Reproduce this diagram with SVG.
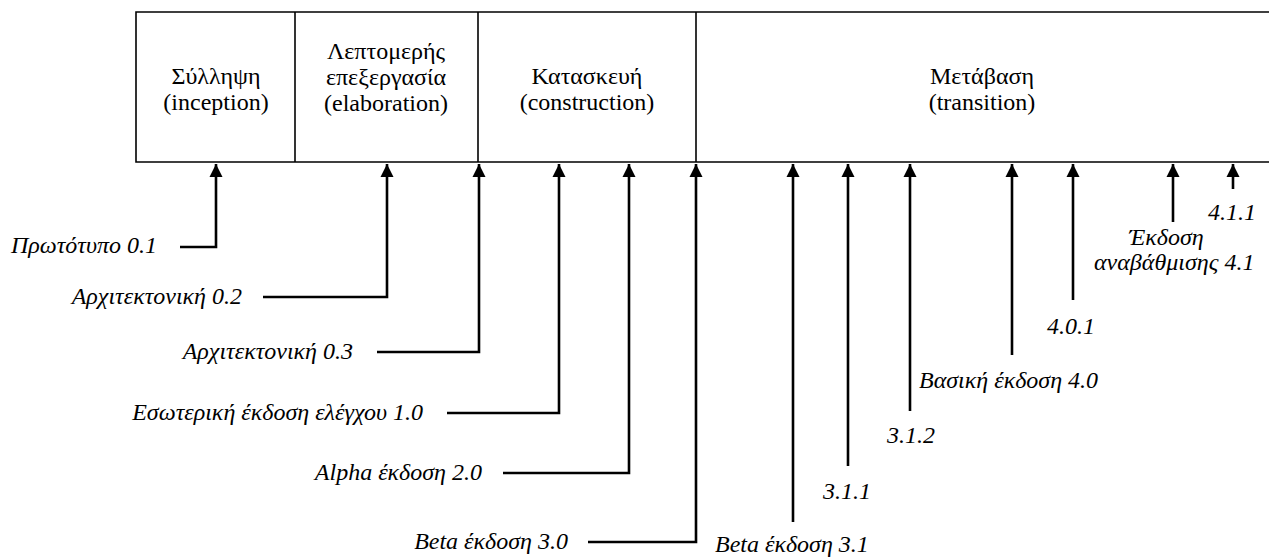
<svg xmlns="http://www.w3.org/2000/svg" width="1269" height="557" viewBox="0 0 1269 557">
  <style>
    .frame { fill: none; stroke: #000; stroke-width: 1.6; }
    text { font-family: 'Liberation Serif', 'Times New Roman', serif; font-size: 24px; fill: #000; }
    .phase { text-anchor: middle; }
    .lbl { font-style: italic; }
    .end { text-anchor: end; }
    .conn { fill: none; stroke: #000; stroke-width: 2.6; }
  </style>
  <defs>
    <marker id="head" viewBox="0 0 10 10" refX="10" refY="5" markerUnits="userSpaceOnUse" markerWidth="13" markerHeight="14" orient="auto">
      <path d="M0,0 L10,5 L0,10 Z" fill="#000"/>
    </marker>
  </defs>

  <rect width="1269" height="557" fill="#fff"/>

  <!-- phase bar -->
  <g id="phases">
    <path class="frame" d="M1270,12 H136 V162 H1270"/>
    <g id="inception">
      <text class="phase" x="216" y="84">Σύλληψη</text>
      <text class="phase" x="216" y="110">(inception)</text>
    </g>
    <g id="elaboration">
      <line class="frame" x1="295" y1="12" x2="295" y2="162"/>
      <text class="phase" x="386" y="59">Λεπτομερής</text>
      <text class="phase" x="386" y="85">επεξεργασία</text>
      <text class="phase" x="386" y="111">(elaboration)</text>
    </g>
    <g id="construction">
      <line class="frame" x1="478" y1="12" x2="478" y2="162"/>
      <text class="phase" x="587" y="84">Κατασκευή</text>
      <text class="phase" x="587" y="110">(construction)</text>
    </g>
    <g id="transition">
      <line class="frame" x1="696" y1="12" x2="696" y2="162"/>
      <text class="phase" x="982" y="84">Μετάβαση</text>
      <text class="phase" x="982" y="110">(transition)</text>
    </g>
  </g>

  <!-- release connectors -->
  <g id="connectors">
    <path class="conn" d="M180,247 H216 V164" marker-end="url(#head)"/>
    <path class="conn" d="M263,297 H387 V164" marker-end="url(#head)"/>
    <path class="conn" d="M377,352 H479 V164" marker-end="url(#head)"/>
    <path class="conn" d="M447,413 H559 V164" marker-end="url(#head)"/>
    <path class="conn" d="M503,473 H629 V164" marker-end="url(#head)"/>
    <path class="conn" d="M588,542 H696 V164" marker-end="url(#head)"/>
    <path class="conn" d="M793,522 V164" marker-end="url(#head)"/>
    <path class="conn" d="M848,466 V164" marker-end="url(#head)"/>
    <path class="conn" d="M910,411 V164" marker-end="url(#head)"/>
    <path class="conn" d="M1012,355 V164" marker-end="url(#head)"/>
    <path class="conn" d="M1073,300 V164" marker-end="url(#head)"/>
    <path class="conn" d="M1173,222 V164" marker-end="url(#head)"/>
    <path class="conn" d="M1233,189 V164" marker-end="url(#head)"/>
  </g>

  <!-- release labels -->
  <g id="r01"><text class="lbl end" x="157" y="253">Πρωτότυπο 0.1</text></g>
  <g id="r02"><text class="lbl end" x="242" y="304">Αρχιτεκτονική 0.2</text></g>
  <g id="r03"><text class="lbl end" x="353" y="359">Αρχιτεκτονική 0.3</text></g>
  <g id="r10"><text class="lbl end" x="423" y="420">Εσωτερική έκδοση ελέγχου 1.0</text></g>
  <g id="r20"><text class="lbl end" x="482" y="480">Alpha έκδοση 2.0</text></g>
  <g id="r30"><text class="lbl end" x="568" y="549">Beta έκδοση 3.0</text></g>
  <g id="r31"><text class="lbl" x="715" y="552">Beta έκδοση 3.1</text></g>
  <g id="r311"><text class="lbl" x="823" y="499">3.1.1</text></g>
  <g id="r312"><text class="lbl" x="887" y="443">3.1.2</text></g>
  <g id="r40"><text class="lbl" x="919" y="388">Βασική έκδοση 4.0</text></g>
  <g id="r401"><text class="lbl" x="1047" y="334">4.0.1</text></g>
  <g id="r41">
    <text class="lbl" x="1129" y="245">Έκδοση</text>
    <text class="lbl" x="1094" y="270">αναβάθμισης 4.1</text>
  </g>
  <g id="r411"><text class="lbl" x="1208" y="220">4.1.1</text></g>
</svg>
